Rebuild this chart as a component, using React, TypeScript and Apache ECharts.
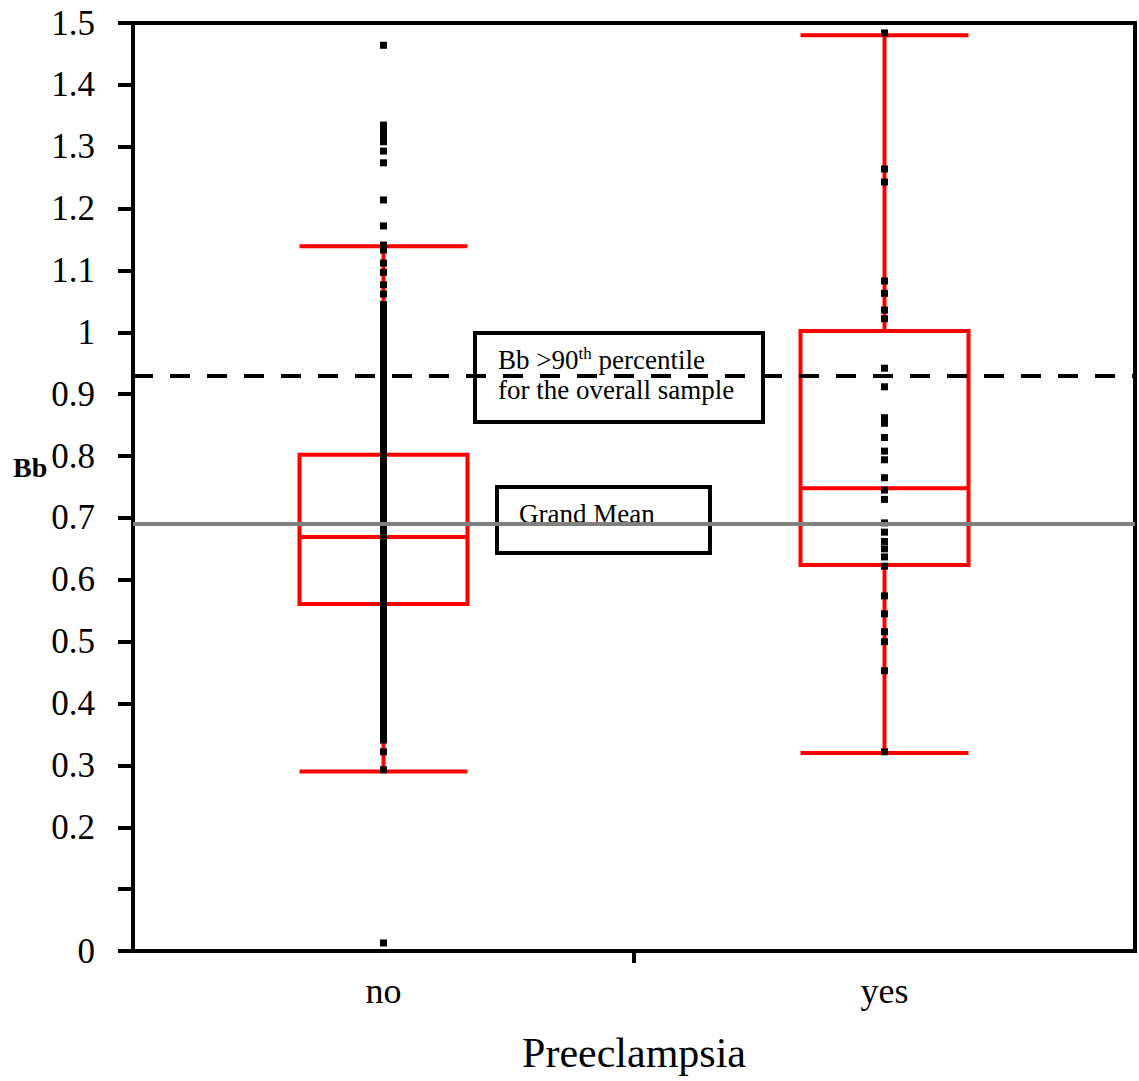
import React, { useEffect, useRef } from "react";
import * as echarts from "echarts";

const categories = ["no", "yes"];
// [min, Q1, median, Q3, max]
const boxStats = [
  [0.29, 0.561, 0.669, 0.802, 1.139],
  [0.32, 0.624, 0.748, 1.002, 1.48],
];
const noPoints = [
  0.013, 0.293, 0.322, 0.341, 0.35, 0.36, 0.37, 0.38, 0.39, 0.4, 0.41, 0.42, 0.43, 0.44, 0.45,
  0.46, 0.47, 0.48, 0.49, 0.5, 0.51, 0.52, 0.53, 0.54, 0.55, 0.56, 0.57, 0.58, 0.59, 0.6, 0.61,
  0.62, 0.63, 0.64, 0.65, 0.66, 0.67, 0.68, 0.69, 0.7, 0.71, 0.72, 0.73, 0.74, 0.75, 0.76, 0.77,
  0.78, 0.79, 0.8, 0.81, 0.82, 0.83, 0.84, 0.85, 0.86, 0.87, 0.88, 0.89, 0.9, 0.91, 0.92, 0.93,
  0.94, 0.95, 0.96, 0.97, 0.98, 0.99, 1.0, 1.01, 1.02, 1.03, 1.04, 1.045, 1.062, 1.077, 1.097,
  1.112, 1.133, 1.141, 1.172, 1.214, 1.274, 1.293, 1.308, 1.315, 1.325, 1.335, 1.464,
];
const yesPoints = [
  1.484, 1.264, 1.243, 1.083, 1.063, 1.036, 1.022, 0.942, 0.912, 0.862, 0.853, 0.83, 0.808,
  0.794, 0.765, 0.745, 0.73, 0.692, 0.677, 0.662, 0.65, 0.637, 0.622, 0.574, 0.545, 0.516,
  0.5, 0.453, 0.322,
];
const grandMean = 0.693;
const percentile90 = 0.928;
const yTickHidden = [0.1];

const FONT = "Liberation Serif";

export default function App() {
  const ref = useRef<HTMLDivElement>(null);
  useEffect(() => {
    document.body.style.margin = "0";
    const chart = echarts.init(ref.current!, undefined, { renderer: "svg" });
    const scatterData: [number, number][] = [];
    noPoints.forEach((v) => scatterData.push([0, v]));
    yesPoints.forEach((v) => scatterData.push([1, v]));
    chart.setOption({
      animation: false,
      backgroundColor: "#ffffff",
      grid: {
        left: 133,
        right: 4,
        top: 23,
        bottom: 130,
        show: true,
        borderColor: "#000",
        borderWidth: 4,
        backgroundColor: "transparent",
      },
      xAxis: {
        type: "category",
        data: categories,
        axisLine: { lineStyle: { color: "#000", width: 4 } },
        axisTick: { show: false },
        axisLabel: { color: "#000", fontFamily: FONT, fontSize: 36, margin: 22 },
        name: "Preeclampsia",
        nameLocation: "middle",
        nameGap: 81,
        nameTextStyle: { color: "#000", fontFamily: FONT, fontSize: 42 },
        splitLine: { show: false },
      },
      yAxis: {
        type: "value",
        min: 0,
        max: 1.5,
        interval: 0.1,
        axisLine: { show: true, lineStyle: { color: "#000", width: 4 } },
        axisTick: { show: true, length: 15, lineStyle: { color: "#000", width: 4 } },
        axisLabel: {
          color: "#000",
          fontFamily: FONT,
          fontSize: 35,
          margin: 38,
          formatter: (v: number) => {
            const r = Number(v.toFixed(1));
            return yTickHidden.includes(r) ? "" : String(r);
          },
        },
        splitLine: { show: false },
      },
      series: [
        {
          type: "boxplot",
          data: boxStats,
          boxWidth: [168, 168],
          itemStyle: { color: "rgba(0,0,0,0)", borderColor: "#ff0000", borderWidth: 4 },
          z: 2,
          silent: true,
        },
        {
          type: "line",
          data: [],
          z: 3,
          silent: true,
          markLine: {
            silent: true,
            symbol: ["none", "none"],
            label: { show: false },
            data: [
              { yAxis: grandMean, lineStyle: { color: "#808080", width: 4, type: "solid" } },
              { yAxis: percentile90, lineStyle: { color: "#000", width: 4, type: [20, 17] } },
            ],
          },
        },
        {
          type: "scatter",
          data: scatterData,
          symbol: "rect",
          symbolSize: 7,
          itemStyle: { color: "#000", opacity: 1 },
          z: 4,
          silent: true,
        },
      ],
      graphic: [
        {
          type: "text",
          left: 13,
          top: 453,
          z: 10,
          style: { text: "Bb", font: `bold 28px "${FONT}"`, fill: "#000" },
        },
        {
          type: "group",
          z: 10,
          children: [
            {
              type: "rect",
              shape: { x: 475, y: 333, width: 288, height: 89 },
              style: { fill: "#fff", stroke: "#000", lineWidth: 4 },
            },
            {
              type: "text",
              x: 498,
              y: 345,
              style: {
                text: "{n|Bb >90}{s|th}{n| percentile}\n{n|for the overall sample}",
                verticalAlign: "top",
                rich: {
                  n: { fontFamily: FONT, fontSize: 27, lineHeight: 30, fill: "#000", color: "#000" },
                  s: { fontFamily: FONT, fontSize: 17, lineHeight: 30, verticalAlign: "top", fill: "#000", color: "#000" },
                },
              },
            },
            {
              type: "rect",
              shape: { x: 497, y: 487, width: 213, height: 66 },
              style: { fill: "#fff", stroke: "#000", lineWidth: 4 },
            },
            {
              type: "text",
              x: 519,
              y: 500,
              style: {
                text: "Grand Mean",
                font: `27px "${FONT}"`,
                fill: "#000",
                verticalAlign: "top",
              },
            },
          ],
        },
      ],
    });
    // single tick on the category boundary between "no" and "yes"
    const x0 = chart.convertToPixel({ xAxisIndex: 0 }, 0) as number;
    const x1 = chart.convertToPixel({ xAxisIndex: 0 }, 1) as number;
    const yBase = chart.convertToPixel({ yAxisIndex: 0 }, 0) as number;
    const xMid = (x0 + x1) / 2;
    chart.setOption({
      graphic: [
        {
          id: "midTick",
          type: "line",
          z: 10,
          shape: { x1: xMid, y1: yBase, x2: xMid, y2: yBase + 12 },
          style: { stroke: "#000", lineWidth: 4 },
        },
      ],
    });
    return () => chart.dispose();
  }, []);
  return <div ref={ref} style={{ width: 1139, height: 1081 }} />;
}
